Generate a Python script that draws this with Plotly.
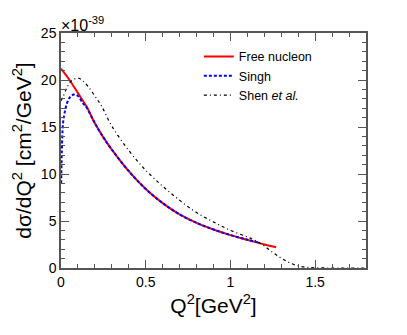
import plotly.graph_objects as go

# Free nucleon
q2_free = [0, 0.05, 0.1, 0.15, 0.2, 0.25, 0.3, 0.4, 0.5, 0.6, 0.7, 0.8, 0.9, 1.0, 1.1, 1.2, 1.27]
xs_free = [21.2, 20.0, 18.6, 17.2, 15.4, 13.9, 12.6, 10.3, 8.4, 6.9, 5.7, 4.8, 4.1, 3.5, 3.0, 2.5, 2.2]

# Singh
q2_singh = [0.001, 0.005, 0.012, 0.02, 0.035, 0.05, 0.075, 0.1, 0.13, 0.15, 0.2, 0.25, 0.3, 0.4, 0.5,
            0.6, 0.7, 0.8, 0.9, 1.0, 1.1, 1.17]
xs_singh = [9.0, 12.5, 15.4, 16.4, 17.5, 18.1, 18.45, 18.3, 17.5, 17.1, 15.4, 13.9, 12.6, 10.3, 8.4,
            6.9, 5.7, 4.8, 4.1, 3.5, 3.0, 2.7]

# Shen et al.
q2_shen = [0, 0.012, 0.033, 0.06, 0.1, 0.13, 0.16, 0.2, 0.24, 0.3, 0.4, 0.5, 0.6, 0.7, 0.8, 0.9,
           1.0, 1.1, 1.15, 1.2, 1.25, 1.3, 1.35, 1.4, 1.45, 1.5, 1.6, 1.8]
xs_shen = [17.8, 18.2, 19.1, 19.9, 20.2, 19.9, 19.3, 18.3, 17.2, 15.1, 12.5, 10.4, 8.7, 7.2, 5.9, 4.9,
           4.0, 3.3, 2.9, 2.35, 1.65, 1.05, 0.55, 0.22, 0.07, 0.02, 0.0, 0.0]

x_ticks = [0, 0.5, 1, 1.5]
x_ticklabels = ["0", "0.5", "1", "1.5"]
y_ticks = [0, 5, 10, 15, 20, 25]
y_ticklabels = ["0", "5", "10", "15", "20", "25"]

FONT = "Liberation Sans, Arial, Helvetica, sans-serif"

fig = go.Figure()
fig.add_trace(go.Scatter(x=q2_free, y=xs_free, mode="lines", name="Free nucleon",
                         line=dict(color="#ff0000", width=2, shape="spline")))
fig.add_trace(go.Scatter(x=q2_singh, y=xs_singh, mode="lines", name="Singh",
                         line=dict(color="#0000ff", width=2, dash="3px,2px", shape="spline")))
fig.add_trace(go.Scatter(x=q2_shen, y=xs_shen, mode="lines", name="Shen <i>et al.</i>",
                         line=dict(color="#000000", width=1.2, dash="3px,3px,1px,3px", shape="spline")))

axis_common = dict(
    showline=True, linecolor="#555555", linewidth=1.5, mirror="ticks",
    ticks="inside", ticklen=8, tickwidth=1, tickcolor="#555555",
    showgrid=False, zeroline=False, automargin=False,
    tickfont=dict(family=FONT, size=14, color="#000000"),
    minor=dict(ticks="inside", ticklen=4, tickcolor="#555555", showgrid=False),
)

fig.update_xaxes(range=[0, 1.8], tickvals=x_ticks, ticktext=x_ticklabels,
                 minor_dtick=0.1,
                 title=dict(text="Q<sup>2</sup>[GeV<sup>2</sup>]", font=dict(family=FONT, size=21), standoff=10),
                 **axis_common)
fig.update_yaxes(range=[0, 25], tickvals=y_ticks, ticktext=y_ticklabels,
                 minor_dtick=1,
                 title=dict(text="dσ/dQ<sup>2</sup> [cm<sup>2</sup>/GeV<sup>2</sup>]", font=dict(family=FONT, size=21), standoff=4),
                 **axis_common)

fig.add_annotation(x=0, y=1, xref="paper", yref="paper", xanchor="left", yanchor="bottom",
                   text="×10<sup>-39</sup>", showarrow=False,
                   font=dict(family=FONT, size=16, color="#000000"), yshift=-3, xshift=-2)

# The page body has an 8px margin, so the figure is drawn 8px in from the top-left corner.
fig.update_layout(
    width=399, height=327,
    margin=dict(l=53, r=41, t=25, b=67),
    paper_bgcolor="white", plot_bgcolor="white",
    font=dict(family=FONT, color="#000000"),
    legend=dict(x=0.452, y=0.962, xanchor="left", yanchor="top",
                bgcolor="rgba(0,0,0,0)", font=dict(family=FONT, size=12.5),
                itemwidth=30, tracegroupgap=0),
)

fig.write_html("out.html")
